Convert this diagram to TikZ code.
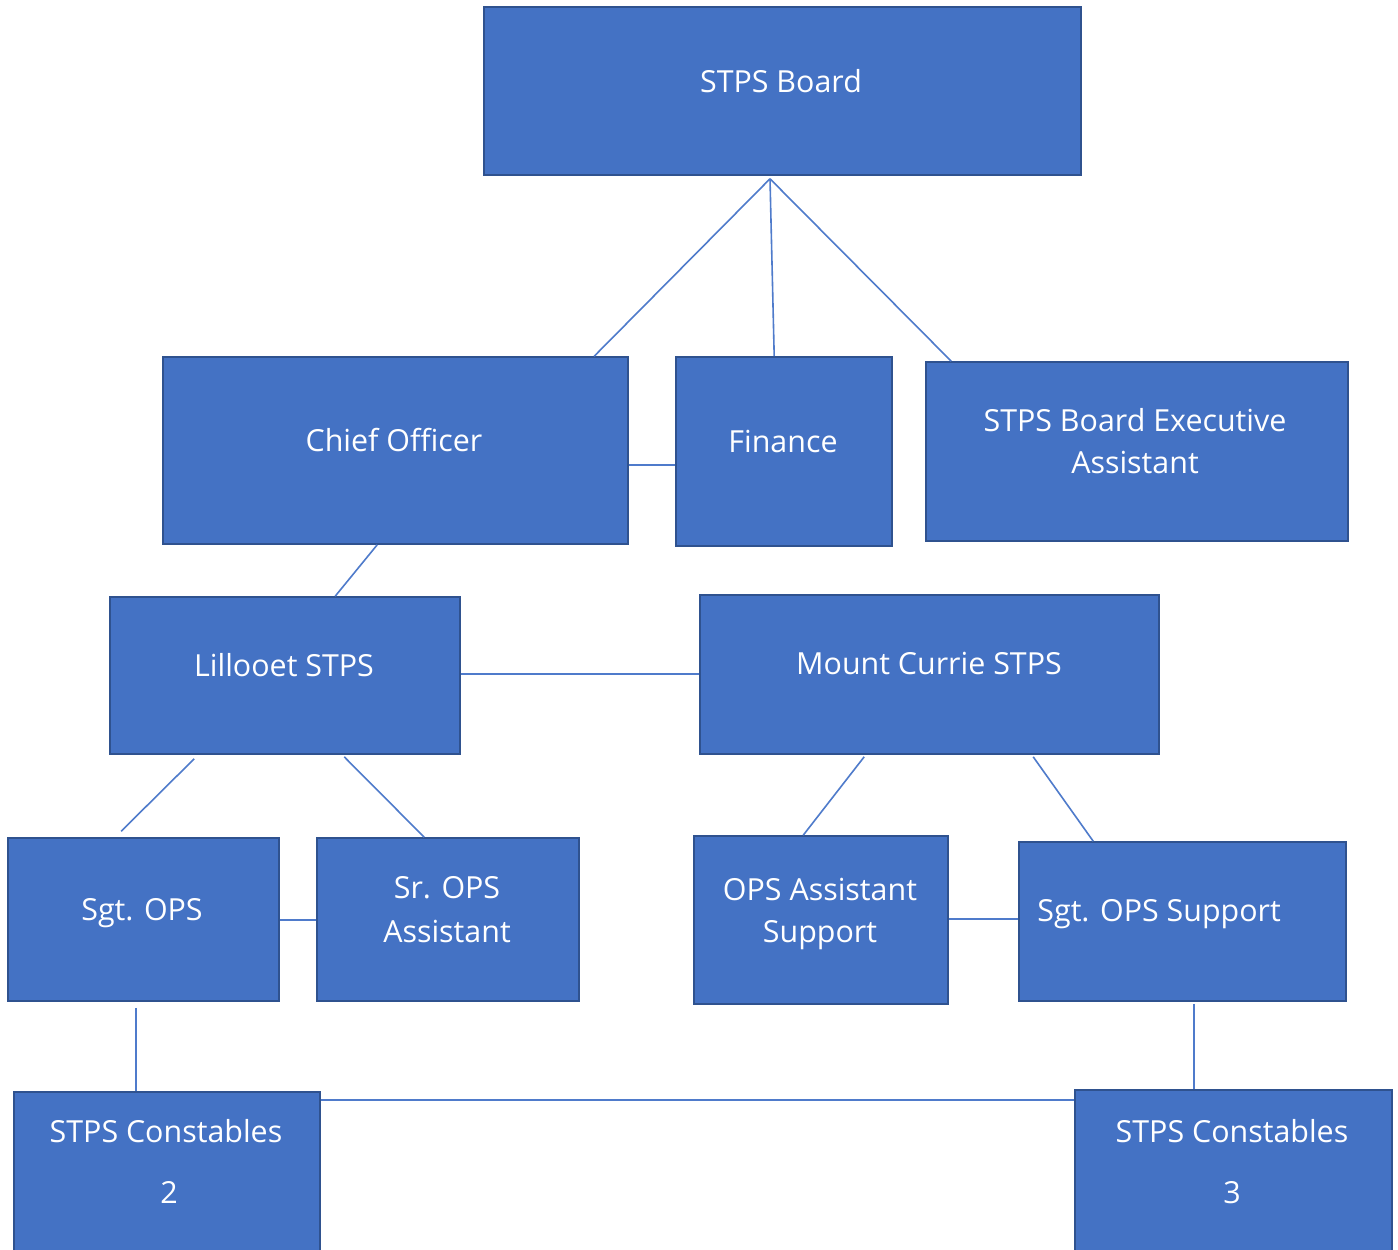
\documentclass[tikz,border=0pt]{standalone}
\usepackage{fontspec}
\setmainfont{Open Sans}
\usetikzlibrary{calc}
\definecolor{boxfill}{HTML}{4472C4}
\definecolor{boxline}{HTML}{2F528F}
\definecolor{connline}{HTML}{4F7BCB}
\begin{document}
\begin{tikzpicture}[x=0.5pt,y=-0.5pt,
  box/.style={draw=boxline,fill=boxfill,line width=0.8pt,inner sep=0pt,rectangle},
  txt/.style={text=white,font=\fontsize{15.2pt}{21pt}\selectfont,inner sep=0pt,anchor=base},
  conn/.style={draw=connline,line width=0.8pt}]
\useasboundingbox (0,0) rectangle (1398,1249);
\clip (0,0) rectangle (1398,1249);
\fill[white] (0,0) rectangle (1398,1249);
% boxes
\node[box,minimum width=298.5pt,minimum height=84pt] (board) at (782.5,91) {};
\node[box,minimum width=232.5pt,minimum height=93.5pt] (chief) at (395.5,450.5) {};
\node[box,minimum width=108pt,minimum height=94.5pt] (fin) at (784,451.5) {};
\node[box,minimum width=211pt,minimum height=89.5pt] (exec) at (1137,451.5) {};
\node[box,minimum width=175pt,minimum height=78.5pt] (lil) at (285,675.5) {};
\node[box,minimum width=229.5pt,minimum height=79.5pt] (mc) at (929.5,674.5) {};
\node[box,minimum width=135.5pt,minimum height=81.5pt] (sgt) at (143.5,919.5) {};
\node[box,minimum width=131pt,minimum height=81.5pt] (sr) at (448,919.5) {};
\node[box,minimum width=127pt,minimum height=84pt] (oas) at (821,920) {};
\node[box,minimum width=163.5pt,minimum height=79.5pt] (sos) at (1182.5,921.5) {};
\node[box,minimum width=153pt,minimum height=89pt] (c2) at (167,1181) {};
\node[box,minimum width=158.5pt,minimum height=90pt] (c3) at (1233.5,1180) {};
% texts
\node[txt] (tboard) at (781,92) {STPS Board};
\node[txt] (tchief) at (394,451) {Chief Officer};
\node[txt] (tfin) at (783,452) {Finance};
\node[txt] (texec1) at (1135,431) {STPS Board Executive};
\node[txt] (texec2) at (1135,473) {Assistant};
\node[txt] (tlil) at (284,676) {Lillooet STPS};
\node[txt] (tmc) at (929,674) {Mount Currie STPS};
\node[txt] (tsgt) at (142,920) {Sgt. OPS};
\node[txt] (tsr1) at (447,898) {Sr. OPS};
\node[txt] (tsr2) at (447,942) {Assistant};
\node[txt] (toas1) at (820,900) {OPS Assistant};
\node[txt] (toas2) at (820,942) {Support};
\node[txt,anchor=base west] (tsos) at (1037,921) {Sgt. OPS Support};
\node[txt] (tc2a) at (166,1142) {STPS Constables};
\node[txt] (tc2b) at (169,1203) {2};
\node[txt] (tc3a) at (1232,1142) {STPS Constables};
\node[txt] (tc3b) at (1232,1203) {3};
% connectors
\coordinate (btop) at ($(board.south)+(-12.5,3)$);
\draw[conn] (btop) -- ($(chief.north west)+(432,0)$);
\draw[conn] (btop) -- ($(fin.north west)+(99,0)$);
\draw[conn] (btop) -- ($(exec.north west)+(26,0)$);
\draw[conn] ($(chief.east)+(0,14.5)$) -- ($(fin.west)+(0,13.5)$);
\draw[conn] ($(chief.south west)+(215,0)$) -- ($(lil.north west)+(226,0)$);
\draw[conn] ($(lil.east)+(0,-1.5)$) -- ($(mc.west)+(0,-0.5)$);
\draw[conn] ($(lil.south west)+(85,4)$) -- ($(sgt.north west)+(114,-6)$);
\draw[conn] ($(lil.south west)+(235,2)$) -- ($(sr.north west)+(108,0)$);
\draw[conn] ($(sgt.east)+(0,0.5)$) -- ($(sr.west)+(0,0.5)$);
\draw[conn] ($(mc.south west)+(165,2)$) -- ($(oas.north west)+(110,0)$);
\draw[conn] ($(mc.south west)+(334,2)$) -- ($(sos.north west)+(75,0)$);
\draw[conn] ($(oas.east)+(0,-1)$) -- ($(sos.west)+(0,-2.5)$);
\draw[conn] ($(sgt.south west)+(129,6)$) -- ($(c2.north west)+(123,0)$);
\draw[conn] ($(sos.south west)+(176,2)$) -- ($(c3.north west)+(120,0)$);
\draw[conn] ($(c2.north east)+(0,9)$) -- ($(c3.north west)+(0,11)$);
\end{tikzpicture}
\end{document}
